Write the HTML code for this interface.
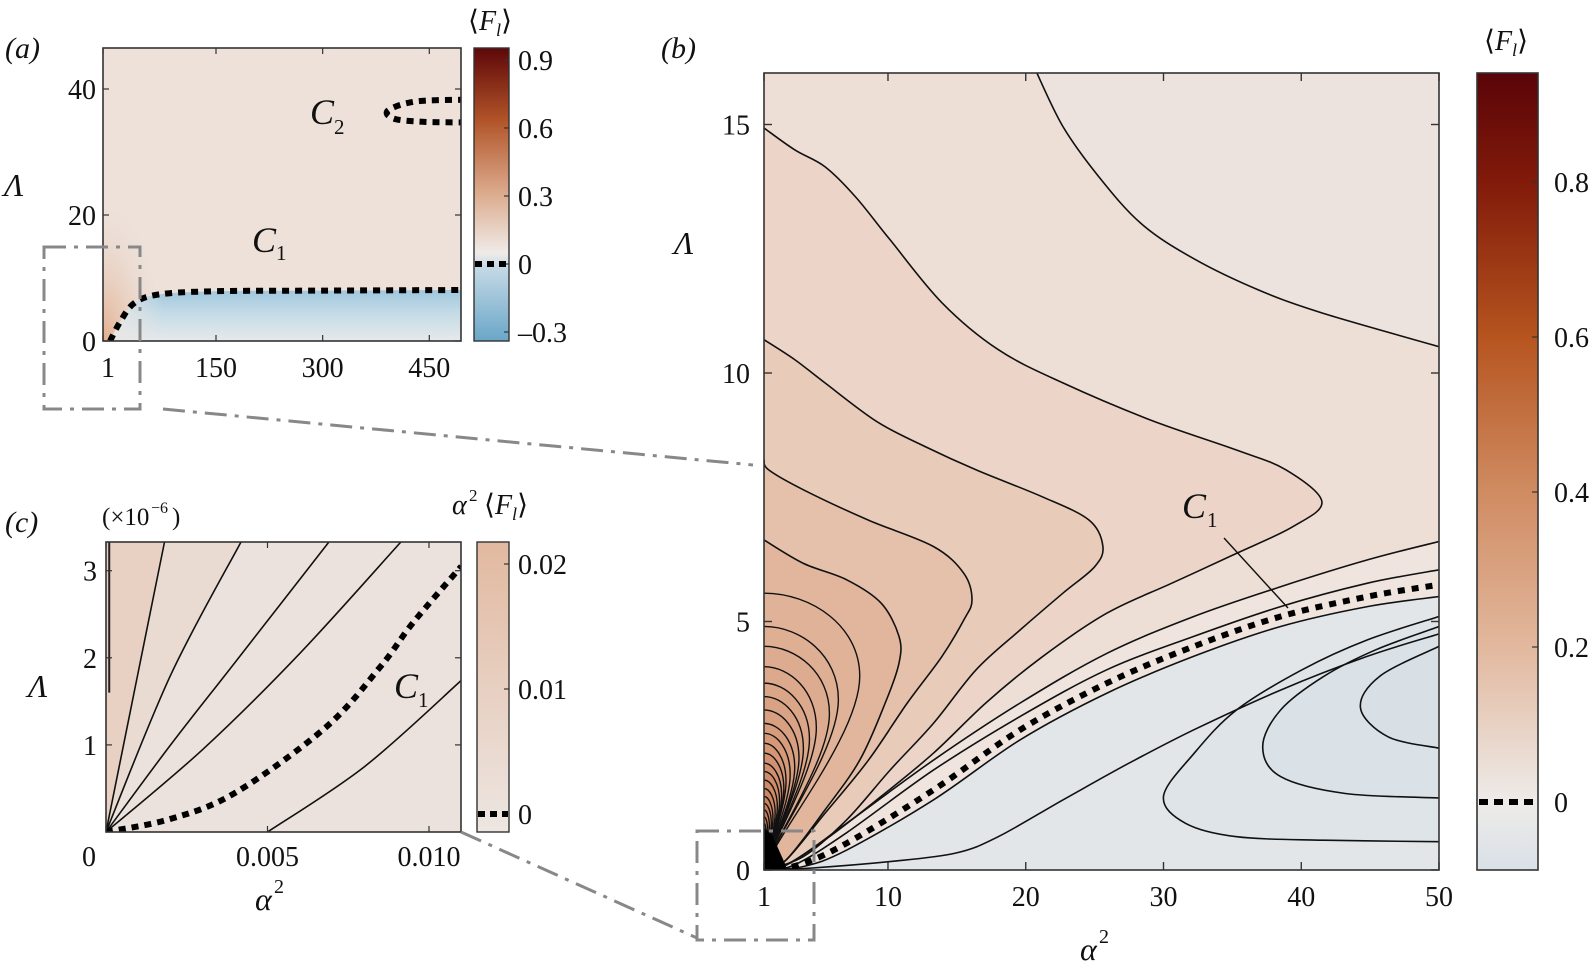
<!DOCTYPE html>
<html><head><meta charset="utf-8"><style>
body{margin:0;background:#fff;}
svg{display:block;}
text{fill:#111;font-family:"Liberation Serif","DejaVu Serif",serif;}
</style></head><body>
<svg id="fig" width="1593" height="970" viewBox="0 0 1593 970" xmlns="http://www.w3.org/2000/svg" font-family="Liberation Serif, serif">
<defs>
<linearGradient id="gA" x1="0" y1="1" x2="0" y2="0">
<stop offset="0" stop-color="#6aa6c8"/><stop offset="0.25" stop-color="#c4d9e5"/><stop offset="0.3" stop-color="#f0ebe8"/><stop offset="0.5" stop-color="#dcac8f"/><stop offset="0.75" stop-color="#b2552a"/><stop offset="1" stop-color="#5e0708"/></linearGradient>
<linearGradient id="gB" x1="0" y1="1" x2="0" y2="0">
<stop offset="0" stop-color="#d9e1e7"/><stop offset="0.085" stop-color="#eeebe9"/><stop offset="0.28" stop-color="#e2b89e"/><stop offset="0.48" stop-color="#cf8a60"/><stop offset="0.67" stop-color="#b6541f"/><stop offset="0.86" stop-color="#821b0a"/><stop offset="1" stop-color="#5a0408"/></linearGradient>
<linearGradient id="gC" x1="0" y1="1" x2="0" y2="0"><stop offset="0" stop-color="#ede6e2"/><stop offset="1" stop-color="#e2b9a0"/></linearGradient>
<linearGradient id="blueA" x1="0" y1="0" x2="0" y2="1"><stop offset="0" stop-color="#9fc6dc"/><stop offset="0.45" stop-color="#c4dbe7"/><stop offset="1" stop-color="#e6e9eb"/></linearGradient>
<linearGradient id="blueFade" x1="0" y1="0" x2="1" y2="0"><stop offset="0" stop-color="#e9e6e4"/><stop offset="0.15" stop-color="#e9e6e4" stop-opacity="0"/></linearGradient>
<radialGradient id="orA" cx="0" cy="1" r="1"><stop offset="0" stop-color="#e3ad8c"/><stop offset="1" stop-color="#eadcd3" stop-opacity="0"/></radialGradient>
<clipPath id="clipB"><rect x="764" y="73" width="675" height="797"/></clipPath>
<clipPath id="clipA"><rect x="103" y="48" width="358" height="293"/></clipPath>
<clipPath id="clipC"><rect x="106" y="542" width="355" height="290"/></clipPath>
</defs>
<g id="layer"></g>
</svg>
<script>
// ---------- DATA ----------
const contourA=[[20.7,16.1],[22.7,14.96],[25.3,13.95],[28.4,13.0],[32.2,12.3],[36.9,11.67],[41.6,11.2],[50,10.53]];
const contourB=[[1,14.93],[3.23,14.49],[5.43,14.15],[7.63,13.55],[10.15,12.68],[13.93,11.41],[18.0,10.47],[22.7,9.8],[29.0,9.06],[35.3,8.45],[38.9,8.05],[41.5,7.41],[39.4,6.91],[35.3,6.37],[30.6,5.77],[25.9,5.17],[21.2,4.29],[17.1,3.36],[13.3,2.35],[9.5,1.48],[5.75,0.67],[2.6,0.1],[1,0]];
const contourC=[[1,10.67],[3.23,10.27],[5.43,9.8],[9.2,9.02],[12.7,8.52],[16.4,8.05],[21.2,7.51],[24.6,7.04],[25.6,6.51],[25.0,6.1],[22.7,5.57],[19.6,4.83],[16.4,4.03],[13.3,2.95],[10.15,2.01],[7.0,1.01],[3.86,0.27],[1,0]];
const contourD=[[1,8.25],[1.34,8.05],[3.86,7.65],[8.58,7.04],[13.3,6.51],[15.5,5.97],[16.1,5.43],[15.5,5.03],[13.9,4.29],[11.4,3.36],[8.58,2.21],[5.43,1.14],[2.6,0.2],[1,0]];
const contourE=[[1,6.64],[3.86,6.17],[7.0,5.84],[9.5,5.37],[10.8,4.7],[10.8,4.16],[9.8,3.36],[7.95,2.21],[5.43,1.21],[2.6,0.2],[1,0]];
const fanStart=[5.57,4.9,4.5,4.09,3.76,3.49,3.22,2.95,2.75,2.55,2.35,2.15,1.98,1.81,1.64,1.48,1.34,1.21,1.07,0.94];
const fanNose=[7.95,6.4,5.75,4.8,4.3,3.86,3.54,3.23,2.9,2.6,2.44,2.28,2.13,1.97,1.81,1.65,1.53,1.4,1.28,1.18];
const contourF1=[[1,0],[2.9,0.14],[7.0,0.94],[13.3,2.21],[19.6,3.36],[25.9,4.36],[32.2,5.1],[38.5,5.7],[44.8,6.24],[50,6.61]];
const contourF2=[[1,0],[3.2,0.1],[7.0,0.75],[13.3,2.01],[19.6,3.09],[25.9,4.03],[32.2,4.7],[38.5,5.3],[44.8,5.77],[50,6.04]];
const curveC1b=[[1,0],[3.5,0.1],[7,0.54],[13.3,1.61],[19.6,2.82],[25.9,3.76],[32.2,4.5],[38.5,5.1],[44.8,5.5],[50,5.74]];
const contourF3=[[1,0],[3.86,0.07],[7,0.4],[13.3,1.41],[19.6,2.62],[25.9,3.56],[32.2,4.3],[38.5,4.9],[44.8,5.3],[50,5.5]];
const contourH=[[1,0],[4.5,0.04],[10.15,0.17],[14.9,0.34],[18,0.67],[22.7,1.41],[27.5,2.15],[32.2,2.82],[38.5,3.62],[44.8,4.3],[50,4.75]];
const contourG1=[[50,5.1],[44.8,4.63],[40.0,4.02],[35.3,3.22],[32.2,2.34],[30.0,1.48],[31.6,0.94],[35.3,0.67],[41.6,0.6],[50,0.57]];
const contourG2=[[50,4.9],[45.4,4.43],[41.6,3.89],[38.5,3.22],[37.2,2.48],[38.5,1.88],[43.2,1.54],[50,1.45]];
const contourG3=[[50,4.5],[45.7,3.9],[44.3,3.26],[46.3,2.68],[50,2.45]];
const aC1=[[1,0],[15,3],[35,6],[70,7.4],[150,7.9],[300,8.0],[500,8.1]];
const aC2=[[500,38.3],[430,38.0],[392,36.6],[400,35.3],[440,34.8],[500,34.7]];
const cLine1=[[0,0],[0.00181,3.33]];
const cLine2=[[0,0],[0.002,1.8],[0.00418,3.33]];
const cLine3=[[0,0],[0.002,1.0],[0.004,1.95],[0.0069,3.33]];
const cLine4=[[0,0],[0.003,0.95],[0.006,2.05],[0.00913,3.33]];
const cLine5=[[0.005,0],[0.008,0.75],[0.011,1.74]];
const cDashed=[[0,0],[0.002,0.15],[0.004,0.45],[0.0068,1.2],[0.0085,1.9],[0.0095,2.4],[0.011,3.05]];
const bXTicks=[1,10,20,30,40,50];
const bYTicks=[0,5,10,15];
const aXTicks=[1,150,300,450];
const aYTicks=[0,20,40];
const cXTicks=[0,0.005,0.010];
const cXLabels=["0","0.005","0.010"];
const cYTicks=[1,2,3];
const cbATicks=[-0.3,0,0.3,0.6,0.9];
const cbALabels=["\u20130.3","0","0.3","0.6","0.9"];
const cbBTicks=[0.2,0.4,0.6,0.8];
const cbCTicks=[0.01,0.02];

// ---------- SCALES ----------
const bx=v=>764+(v-1)*13.776, by=v=>870-v*49.7;
const ax=v=>216+(v-150)*0.711, ay=v=>341-v*6.3;
const cx=v=>106+v*32300, cy=v=>832-v*87.1;
const cbA=v=>264-v*226.7, cbB=v=>802-v*775, cbC=v=>814-v*12500;

const NS="http://www.w3.org/2000/svg";
const layer=document.getElementById('layer');
function el(tag,attrs,parent){const e=document.createElementNS(NS,tag);for(const k in attrs)e.setAttribute(k,attrs[k]);(parent||layer).appendChild(e);return e;}
function smooth(pts){
  let d=`M${pts[0][0].toFixed(1)},${pts[0][1].toFixed(1)}`;
  for(let i=0;i<pts.length-1;i++){const p0=pts[i-1]||pts[i],p1=pts[i],p2=pts[i+1],p3=pts[i+2]||p2;
    const c1=[p1[0]+(p2[0]-p0[0])/6,p1[1]+(p2[1]-p0[1])/6],c2=[p2[0]-(p3[0]-p1[0])/6,p2[1]-(p3[1]-p1[1])/6];
    d+=`C${c1[0].toFixed(1)},${c1[1].toFixed(1)} ${c2[0].toFixed(1)},${c2[1].toFixed(1)} ${p2[0].toFixed(1)},${p2[1].toFixed(1)}`;}
  return d;}
const mapB=a=>a.map(p=>[bx(p[0]),by(p[1])]);
const mapA=a=>a.map(p=>[ax(p[0]),ay(p[1])]);
const mapC=a=>a.map(p=>[cx(p[0]),cy(p[1])]);
function txt(x,y,s,attrs,name){const t=el('text',Object.assign({x:x,y:y,'font-size':28,'font-family':'Liberation Serif, serif'},attrs||{}));t.textContent=s;


return t;}
function fl(x,y,size,name){
const t=el('text',{x:x,y:y,'font-size':size,'font-family':'Liberation Serif, DejaVu Serif, serif'});


const a=el('tspan',{},t);a.textContent='\u27E8';
const b=el('tspan',{'font-style':'italic'},t);b.textContent='F';
const c=el('tspan',{'font-style':'italic','font-size':size*0.65,dy:6},t);c.textContent='l';
const d=el('tspan',{dy:-6},t);d.textContent='\u27E9';}

// ---------- PANEL B ----------
const gB=el('g',{'clip-path':'url(#clipB)'});


el('rect',{x:764,y:73,width:675,height:797,fill:'#eedfd6'},gB);
el('path',{d:smooth(mapB(contourA))+`L${bx(50)},${by(16.2)}Z`,fill:'#ece3de'},gB);
const fills=['#ecd5c8','#e9cbba','#e5c1ab','#e1b69d'];
[contourB,contourC,contourD,contourE].forEach((c,i)=>{const f=el('path',{d:smooth(mapB(c))+'Z',fill:fills[i]},gB);

});
function fanPath(s,n){const P0=[bx(1),by(s)],N=[bx(n),by(s*0.7)],O=[bx(1.05),by(0.02)];
return `M${P0[0]},${P0[1]}C${P0[0]+(N[0]-P0[0])*0.5},${P0[1]} ${N[0]},${N[1]-(N[1]-P0[1])*0.6} ${N[0]},${N[1]}C${N[0]},${N[1]+(O[1]-N[1])*0.3} ${O[0]+(N[0]-O[0])*0.15},${O[1]-(O[1]-N[1])*0.2} ${O[0]},${O[1]}`;}
fanStart.forEach((s,i)=>{const t=i/(fanStart.length-1);
const r=Math.round(224-t*26),g=Math.round(178-t*60),b=Math.round(152-t*75);
const f=el('path',{d:fanPath(s,fanNose[i])+`L${bx(1)},${by(0)}Z`,fill:`rgb(${r},${g},${b})`},gB);

});
el('path',{d:smooth(mapB(contourF1))+`L${bx(50)},${by(0)}Z`,fill:'#efe4de'},gB);
el('path',{d:smooth(mapB(contourF3))+`L${bx(50)},${by(0)}Z`,fill:'#e2e6e9'},gB);
el('path',{d:smooth(mapB(contourG1))+'Z',fill:'#dee4e8'},gB);
el('path',{d:smooth(mapB(contourG2))+'Z',fill:'#dbe2e7'},gB);
el('path',{d:smooth(mapB(contourG3))+'Z',fill:'#d8e0e6'},gB);
[contourA,contourB,contourC,contourD,contourE,contourF1,contourF2,contourF3,contourH,contourG1,contourG2,contourG3].forEach((c,i)=>{
const l=el('path',{d:smooth(mapB(c)),fill:'none',stroke:'#111',"stroke-width":1.6},gB);

});
fanStart.forEach((s,i)=>{const l=el('path',{d:fanPath(s,fanNose[i]),fill:'none',stroke:'#111','stroke-width':1.4},gB);

});
const blk=el('path',{d:`M${bx(1)},${by(0)}L${bx(1)},${by(0.85)}L${bx(1.6)},${by(0.7)}L${bx(2.6)},${by(0.08)}L${bx(2.6)},${by(0)}Z`,fill:'#000'},gB);


const dB=el('path',{d:smooth(mapB(curveC1b)),fill:'none',stroke:'#000','stroke-width':6,'stroke-dasharray':'7 7'},gB);


const ptr=el('line',{x1:1224,y1:538,x2:1288,y2:608,stroke:'#111','stroke-width':1.4});


txt(1182,518,'C',{'font-style':'italic','font-size':36},'c1-label-b');
txt(1207,527,'1',{'font-size':21},'c1-subscript-b');
function frame(x,y,w,h,name){const r=el('rect',{x:x,y:y,width:w,height:h,fill:'none',stroke:'#333','stroke-width':1.6});

}
frame(764,73,675,797,'panel-b-frame');
bXTicks.forEach(v=>{const X=bx(v);el('line',{x1:X,y1:870,x2:X,y2:862,stroke:'#333','stroke-width':1.4});el('line',{x1:X,y1:73,x2:X,y2:81,stroke:'#333','stroke-width':1.4});
txt(X,906,String(v),{'text-anchor':'middle'},'x-tick-label-b');});
bYTicks.forEach(v=>{const Y=by(v);el('line',{x1:764,y1:Y,x2:772,y2:Y,stroke:'#333','stroke-width':1.4});el('line',{x1:1439,y1:Y,x2:1431,y2:Y,stroke:'#333','stroke-width':1.4});
txt(750,Y+10,String(v),{'text-anchor':'end'},'y-tick-label-b');});
txt(674,254,'Λ',{'font-style':'italic','font-size':32},'y-axis-title-b');
txt(1080,960,'α',{'font-style':'italic','font-size':32},'x-axis-title-b');
txt(1099,943,'2',{'font-size':20},'x-axis-title-b-exp');
txt(661,58,'(b)',{'font-style':'italic','font-size':30},'panel-label-b');
const cbb=el('rect',{x:1477,y:73,width:61,height:797,fill:'url(#gB)',stroke:'#333','stroke-width':1.6});


cbBTicks.forEach(v=>{el('line',{x1:1538,y1:cbB(v),x2:1532,y2:cbB(v),stroke:'#333','stroke-width':1.2});txt(1554,cbB(v)+10,String(v),{},'colorbar-b-tick-label');});
el('line',{x1:1479,y1:cbB(0),x2:1537,y2:cbB(0),stroke:'#000','stroke-width':6,'stroke-dasharray':'9 6'});
txt(1554,cbB(0)+10,'0',{},'colorbar-b-tick-label');
fl(1484,50,28,'colorbar-b-title');

// ---------- PANEL A ----------
const gA=el('g',{'clip-path':'url(#clipA)'});


el('rect',{x:103,y:48,width:358,height:293,fill:'#ede1da'},gA);
el('rect',{x:103,y:200,width:60,height:141,fill:'url(#orA)'},gA);
const under=mapA(aC1);
el('path',{d:smooth(under)+`L${ax(500)},${ay(0)}L${ax(1)},${ay(0)}Z`,fill:'url(#blueA)'},gA);
el('path',{d:smooth(under)+`L${ax(500)},${ay(0)}L${ax(1)},${ay(0)}Z`,fill:'url(#blueFade)'},gA);
const dA1=el('path',{d:smooth(under),fill:'none',stroke:'#000','stroke-width':6,'stroke-dasharray':'7 6'},gA);


const dA2=el('path',{d:smooth(mapA(aC2)),fill:'none',stroke:'#000','stroke-width':6,'stroke-dasharray':'7 6'},gA);


frame(103,48,358,293,'panel-a-frame');
aXTicks.forEach(v=>{const X=v===1?103:ax(v);el('line',{x1:X,y1:341,x2:X,y2:335,stroke:'#333','stroke-width':1.2});el('line',{x1:X,y1:48,x2:X,y2:54,stroke:'#333','stroke-width':1.2});
txt(v===1?108:X,377,String(v),{'text-anchor':'middle'},'x-tick-label-a');});
aYTicks.forEach(v=>{const Y=ay(v);el('line',{x1:103,y1:Y,x2:109,y2:Y,stroke:'#333','stroke-width':1.2});el('line',{x1:461,y1:Y,x2:455,y2:Y,stroke:'#333','stroke-width':1.2});
txt(96,Y+10,String(v),{'text-anchor':'end'},'y-tick-label-a');});
txt(4,196,'Λ',{'font-style':'italic','font-size':32},'y-axis-title-a');
txt(5,58,'(a)',{'font-style':'italic','font-size':30},'panel-label-a');
txt(252,252,'C',{'font-style':'italic','font-size':36},'c1-label-a');
txt(276,260,'1',{'font-size':21},'c1-subscript-a');
txt(310,124,'C',{'font-style':'italic','font-size':36},'c2-label-a');
txt(334,134,'2',{'font-size':21},'c2-subscript-a');
const cba=el('rect',{x:474,y:48,width:35,height:293,fill:'url(#gA)',stroke:'#333','stroke-width':1.4});


cbATicks.forEach((v,i)=>{el('line',{x1:509,y1:cbA(v),x2:504,y2:cbA(v),stroke:'#333','stroke-width':1.2});txt(518,cbA(v)+10,cbALabels[i],{},'colorbar-a-tick-label');});
el('line',{x1:475,y1:cbA(0),x2:508,y2:cbA(0),stroke:'#000','stroke-width':6,'stroke-dasharray':'7 5'});
fl(468,30,28,'colorbar-a-title');

// ---------- PANEL C ----------
const gC=el('g',{'clip-path':'url(#clipC)'});


el('rect',{x:106,y:542,width:355,height:290,fill:'#ebe2dd'},gC);
el('path',{d:`M${cx(0)},${cy(0)}L${cx(cLine1[1][0])},${cy(3.4)}L${cx(0)},${cy(3.4)}Z`,fill:'#e8d1c3'},gC);
el('path',{d:smooth(mapC(cLine2))+`L${cx(cLine1[1][0])},${cy(3.33)}Z`,fill:'#eadbd2'},gC);
[cLine1,cLine2,cLine3,cLine4,cLine5].forEach((c,i)=>{const l=el('path',{d:smooth(mapC(c)),fill:'none',stroke:'#111','stroke-width':1.6},gC);

});
el('line',{x1:cx(0.0001),y1:cy(1.6),x2:cx(0.0001),y2:cy(3.33),stroke:'#222','stroke-width':2});
const dC=el('path',{d:smooth(mapC(cDashed)),fill:'none',stroke:'#000','stroke-width':6,'stroke-dasharray':'7 6'},gC);


frame(106,542,355,290,'panel-c-frame');
cXTicks.forEach((v,i)=>{const X=cx(v);el('line',{x1:X,y1:832,x2:X,y2:826,stroke:'#333','stroke-width':1.2});el('line',{x1:X,y1:542,x2:X,y2:548,stroke:'#333','stroke-width':1.2});
txt(i===0?89:X,866,cXLabels[i],{'text-anchor':'middle'},'x-tick-label-c');});
cYTicks.forEach(v=>{const Y=cy(v);el('line',{x1:106,y1:Y,x2:112,y2:Y,stroke:'#333','stroke-width':1.2});el('line',{x1:461,y1:Y,x2:455,y2:Y,stroke:'#333','stroke-width':1.2});
txt(97,Y+10,String(v),{'text-anchor':'end'},'y-tick-label-c');});
txt(28,697,'Λ',{'font-style':'italic','font-size':32},'y-axis-title-c');
txt(255,910,'α',{'font-style':'italic','font-size':32},'x-axis-title-c');
txt(274,893,'2',{'font-size':20},'x-axis-title-c-exp');
txt(5,532,'(c)',{'font-style':'italic','font-size':30},'panel-label-c');
txt(102,525,'(×10',{'font-size':25},'x-scale-note-c');
txt(151,513,'−6',{'font-size':16},'x-scale-note-exp');
txt(172,525,')',{'font-size':25},'x-scale-note-end');
txt(394,698,'C',{'font-style':'italic','font-size':36},'c1-label-c');
txt(418,707,'1',{'font-size':21},'c1-subscript-c');
const cbc=el('rect',{x:477,y:542,width:32,height:290,fill:'url(#gC)',stroke:'#333','stroke-width':1.4});


cbCTicks.forEach(v=>{el('line',{x1:509,y1:cbC(v),x2:504,y2:cbC(v),stroke:'#333','stroke-width':1.2});txt(518,cbC(v)+10,String(v),{},'colorbar-c-tick-label');});
el('line',{x1:478,y1:cbC(0),x2:508,y2:cbC(0),stroke:'#000','stroke-width':6,'stroke-dasharray':'7 5'});
txt(518,cbC(0)+10,'0',{},'colorbar-c-tick-label');
txt(452,514,'α',{'font-style':'italic','font-size':28},'colorbar-c-title');
txt(469,501,'2',{'font-size':17},'colorbar-c-title-exp');
fl(484,514,28,'colorbar-c-title-f');

// ---------- ZOOM INDICATORS ----------
function dd(attrs,name){const e=el(attrs.tag,Object.assign({fill:'none',stroke:'#888','stroke-width':3,'stroke-dasharray':'22 8 4 8'},attrs.a));

}
dd({tag:'rect',a:{x:44,y:247,width:96,height:162}},'zoom-box-a');
dd({tag:'line',a:{x1:163,y1:409,x2:753,y2:465}},'zoom-connector-a-b');
dd({tag:'rect',a:{x:697,y:831,width:117,height:109}},'zoom-box-b');
dd({tag:'line',a:{x1:461,y1:832,x2:697,y2:938}},'zoom-connector-c-b');
</script>
</body></html>
